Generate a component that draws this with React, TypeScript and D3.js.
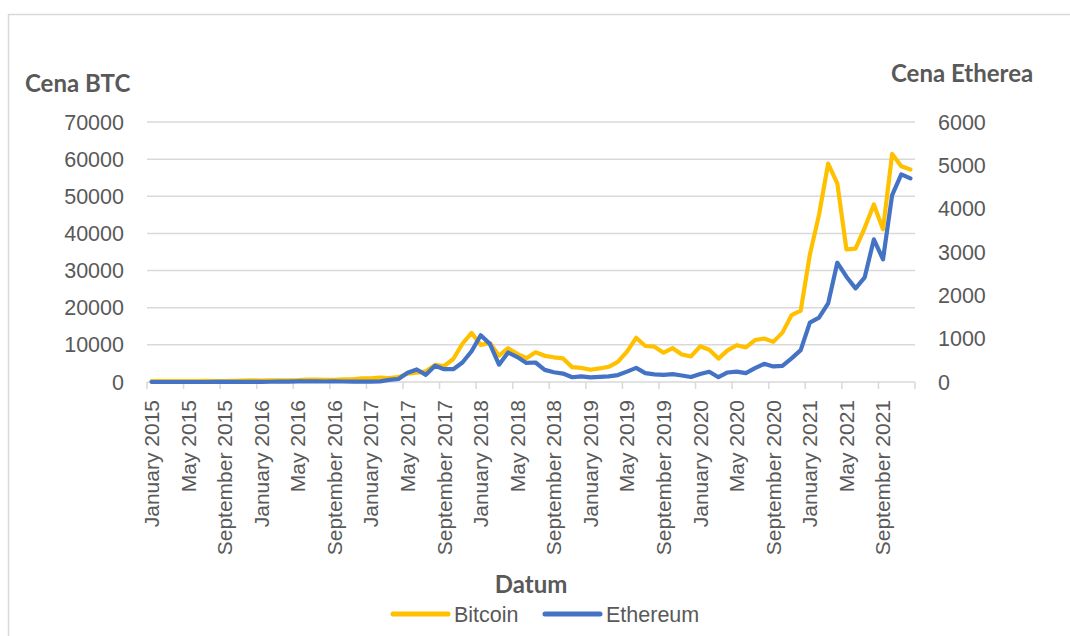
import React, { useEffect, useRef } from 'react';
import * as d3 from 'd3';

const MONTHS = ['January', 'February', 'March', 'April', 'May', 'June', 'July', 'August', 'September', 'October', 'November', 'December'];
const YEARS = [2015, 2016, 2017, 2018, 2019, 2020, 2021];

// monthly prices, Jan 2015 .. Dec 2021
const BTC = [
  217, 254, 244, 236, 230, 263, 284, 230, 236, 314, 377, 430,
  368, 437, 416, 448, 531, 673, 624, 575, 609, 701, 742, 964,
  1000, 1190, 1080, 1300, 2250, 2500, 2870, 4600, 4300, 6200, 10300, 13200,
  10000, 10500, 7100, 9100, 7600, 6400, 8000, 7050, 6650, 6350, 4000, 3800,
  3300, 3650, 4100, 5400, 8200, 11900, 9700, 9500, 7900, 9100, 7400, 6900,
  9600, 8700, 6300, 8500, 9900, 9300, 11300, 11700, 10800, 13300, 18000, 19200,
  34300, 45000, 58800, 53500, 35700, 35900, 41500, 47800, 41100, 61400, 58100, 57200
];
const ETH = [
  0, 0, 0, 0, 0, 0, 0, 1.2, 0.9, 0.9, 0.9, 0.9,
  2.2, 5.6, 11.4, 8.8, 14, 12.5, 12.8, 11.2, 13.2, 11.3, 8.7, 8,
  10.7, 15, 50, 70, 215, 290, 165, 375, 295, 295, 450, 710,
  1080, 880, 400, 680, 575, 440, 450, 280, 225, 195, 110, 130,
  105, 120, 130, 160, 240, 325, 205, 175, 165, 180, 150, 115,
  185, 235, 110, 220, 240, 205, 318, 420, 360, 372, 546, 735,
  1370, 1484, 1815, 2753, 2430, 2161, 2415, 3291, 2830, 4314, 4791, 4699
];
const BTC_TICKS = [0, 10000, 20000, 30000, 40000, 50000, 60000, 70000];
const ETH_TICKS = [0, 1000, 2000, 3000, 4000, 5000, 6000];
const SERIES = [
  { name: 'Bitcoin', values: BTC, axis: 'left', color: '#FFC000' },
  { name: 'Ethereum', values: ETH, axis: 'right', color: '#4472C4' }
];

const App: React.FC = () => {
  const svgRef = useRef<SVGSVGElement>(null);

  useEffect(() => {
    if (!svgRef.current) return;
    const svg = d3.select(svgRef.current);
    svg.selectAll('*').remove();

    const left = 147, right = 915, top = 122, bottom = 382;
    const grey = '#595959';
    const lineGrey = '#D9D9D9';
    const tickFont = '"Liberation Sans", Arial, sans-serif';
    const titleFont = 'Lato, "Open Sans", sans-serif';

    const categories = YEARS.flatMap(y => MONTHS.map(m => `${m} ${y}`));

    const x = d3.scaleBand<string>().domain(categories).range([left, right]);
    const yL = d3.scaleLinear().domain([0, 70000]).range([bottom, top]);
    const yR = d3.scaleLinear().domain([0, 6000]).range([bottom, top]);
    const cx = (i: number) => (x(categories[i]) as number) + x.bandwidth() / 2;

    // chart frame
    svg.append('rect')
      .attr('x', 8.5).attr('y', 14.5)
      .attr('width', 1200).attr('height', 800)
      .attr('fill', '#fff')
      .attr('stroke', lineGrey).attr('stroke-width', 1.5);

    // gridlines
    svg.append('g')
      .selectAll('line')
      .data(BTC_TICKS.slice(1))
      .join('line')
      .attr('x1', left).attr('x2', right)
      .attr('y1', d => yL(d)).attr('y2', d => yL(d))
      .attr('stroke', lineGrey).attr('stroke-width', 1.5);

    // x axis line + ticks every 4 months
    svg.append('line')
      .attr('x1', left).attr('x2', right)
      .attr('y1', bottom).attr('y2', bottom)
      .attr('stroke', lineGrey).attr('stroke-width', 1.5);

    const tickIdx = d3.range(0, categories.length + 1, 4);
    svg.append('g')
      .selectAll('line')
      .data(tickIdx)
      .join('line')
      .attr('x1', i => left + i * x.step()).attr('x2', i => left + i * x.step())
      .attr('y1', bottom).attr('y2', bottom + 7)
      .attr('stroke', lineGrey).attr('stroke-width', 1.5);

    // x labels
    svg.append('g')
      .selectAll('text')
      .data(d3.range(0, categories.length, 4))
      .join('text')
      .attr('transform', i => `translate(${cx(i)},400) rotate(-90)`)
      .attr('dy', '0.35em')
      .attr('text-anchor', 'end')
      .style('font-family', tickFont)
      .style('font-size', '21px')
      .style('fill', grey)
      .text(i => categories[i]);

    // left axis labels
    svg.append('g')
      .selectAll('text')
      .data(BTC_TICKS)
      .join('text')
      .attr('x', 124)
      .attr('y', d => yL(d))
      .attr('dy', '0.35em')
      .attr('text-anchor', 'end')
      .style('font-family', tickFont)
      .style('font-size', '21.5px')
      .style('fill', grey)
      .text(d => d);

    // right axis labels
    svg.append('g')
      .selectAll('text')
      .data(ETH_TICKS)
      .join('text')
      .attr('x', 938)
      .attr('y', d => yR(d))
      .attr('dy', '0.35em')
      .attr('text-anchor', 'start')
      .style('font-family', tickFont)
      .style('font-size', '21.5px')
      .style('fill', grey)
      .text(d => d);

    // axis titles
    const titles = [
      { text: 'Cena BTC', x: 25, y: 92, anchor: 'start' },
      { text: 'Cena Etherea', x: 891, y: 82, anchor: 'start' },
      { text: 'Datum', x: 531, y: 593, anchor: 'middle' }
    ];
    svg.append('g')
      .selectAll('text')
      .data(titles)
      .join('text')
      .attr('x', d => d.x).attr('y', d => d.y)
      .attr('text-anchor', d => d.anchor)
      .style('font-family', titleFont)
      .style('font-weight', '700')
      .style('font-size', '24px')
      .style('fill', grey)
      .text(d => d.text);

    // series lines
    SERIES.forEach(s => {
      const yScale = s.axis === 'left' ? yL : yR;
      const line = d3.line<number>()
        .x((_, i) => cx(i))
        .y(d => yScale(d));
      svg.append('path')
        .datum(s.values)
        .attr('d', line)
        .attr('fill', 'none')
        .attr('stroke', s.color)
        .attr('stroke-width', 4.2)
        .attr('stroke-linejoin', 'round')
        .attr('stroke-linecap', 'round');
    });

    // legend
    const legendPos = [393, 545];
    const lg = svg.append('g')
      .selectAll('g')
      .data(SERIES)
      .join('g')
      .attr('transform', (_, i) => `translate(${legendPos[i]},614)`);
    lg.append('line')
      .attr('x1', 0).attr('x2', 55)
      .attr('stroke', d => d.color)
      .attr('stroke-width', 5)
      .attr('stroke-linecap', 'round');
    lg.append('text')
      .attr('x', 61)
      .attr('y', 8)
      .style('font-family', tickFont)
      .style('font-size', '21.5px')
      .style('fill', grey)
      .text(d => d.name);
  }, []);

  return (
    <svg
      ref={svgRef}
      width={1070}
      height={636}
      style={{ position: 'fixed', left: 0, top: 0, background: '#ffffff' }}
    />
  );
};

export default App;
